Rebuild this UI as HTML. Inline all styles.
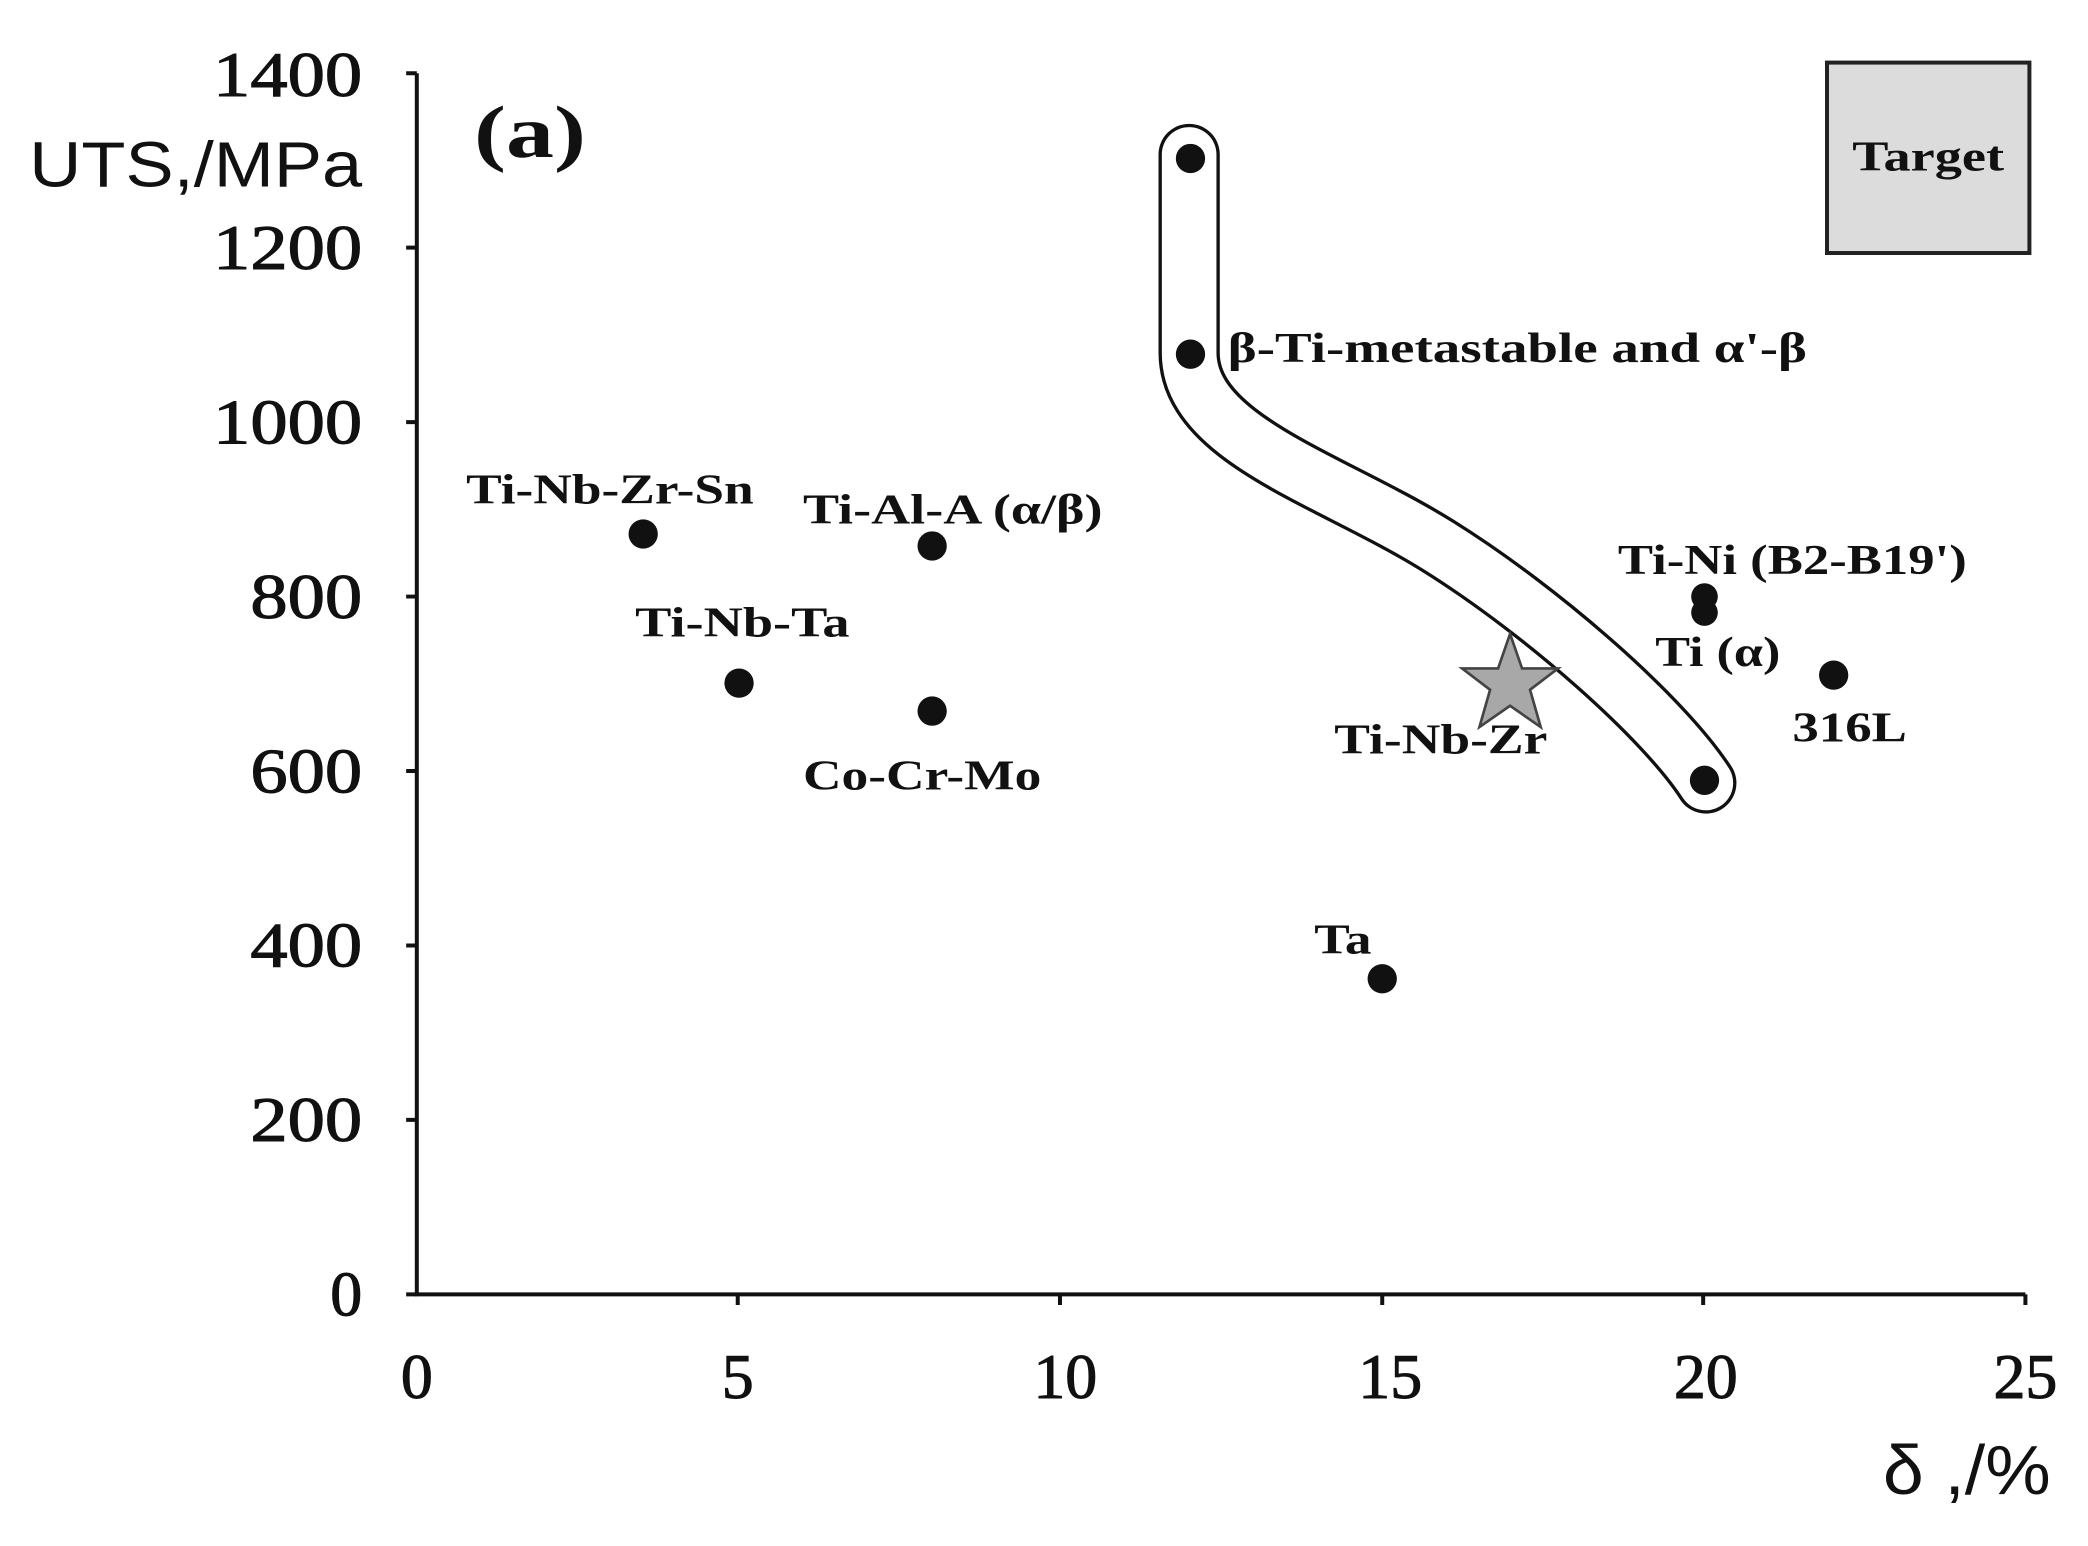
<!DOCTYPE html>
<html><head><style>html,body{margin:0;padding:0;background:#fff;}svg{display:block}</style></head>
<body>
<svg width="2088" height="1546" viewBox="0 0 1568 1161" preserveAspectRatio="none" xmlns="http://www.w3.org/2000/svg">
<rect width="1568" height="1161" fill="#fff"/>
<g font-family="'Liberation Serif', serif" font-size="48" text-anchor="end" fill="#111" stroke="#111" stroke-width="0.8">
<text x="272" y="72" textLength="112" lengthAdjust="spacingAndGlyphs">1400</text>
<text x="272" y="202" textLength="112" lengthAdjust="spacingAndGlyphs">1200</text>
<text x="272" y="333" textLength="112" lengthAdjust="spacingAndGlyphs">1000</text>
<text x="272" y="464" textLength="84" lengthAdjust="spacingAndGlyphs">800</text>
<text x="272" y="595" textLength="84" lengthAdjust="spacingAndGlyphs">600</text>
<text x="272" y="726" textLength="84" lengthAdjust="spacingAndGlyphs">400</text>
<text x="272" y="857" textLength="84" lengthAdjust="spacingAndGlyphs">200</text>
<text x="272" y="988">0</text>
</g>
<g font-family="'Liberation Serif', serif" font-size="48" text-anchor="middle" fill="#111" stroke="#111" stroke-width="0.8">
<text x="313" y="1050">0</text>
<text x="554" y="1050">5</text>
<text x="800" y="1050">10</text>
<text x="1044" y="1050">15</text>
<text x="1281" y="1050">20</text>
<text x="1521" y="1050">25</text>
</g>
<g stroke="#111" stroke-width="3" fill="none">
<path d="M313,55 L313,972 L1521,972"/>
<path d="M305,55H313M305,186H313M305,317H313M305,448H313M305,579H313M305,710H313M305,841H313M305,972H313"/>
<path d="M554,972V980M796,972V980M1038,972V980M1279,972V980M1521,972V980"/>
</g>
<text x="22" y="140" font-family="'Liberation Sans', sans-serif" font-size="48" fill="#111" textLength="250" lengthAdjust="spacingAndGlyphs">UTS,/MPa</text>
<text x="356" y="118" font-family="'Liberation Serif', serif" font-size="56" font-weight="bold" fill="#111" textLength="84" lengthAdjust="spacingAndGlyphs">(a)</text>
<text x="1414" y="1122" font-family="'Liberation Sans', sans-serif" font-size="52" fill="#111" textLength="126" lengthAdjust="spacingAndGlyphs">δ ,/%</text>
<rect x="1372" y="47" width="152" height="143" fill="#dcdcdc" stroke="#222" stroke-width="3"/>
<text x="1391" y="128" font-family="'Liberation Serif', serif" font-size="32" font-weight="bold" fill="#111" textLength="114" lengthAdjust="spacingAndGlyphs">Target</text>
<path d="M893,116 L893,265 C893,330 1000,360 1080,410 C1160,460 1250,540 1281,588" stroke="#111" stroke-width="46" stroke-linecap="round" fill="none"/>
<path d="M893,116 L893,265 C893,330 1000,360 1080,410 C1160,460 1250,540 1281,588" stroke="#fff" stroke-width="41" stroke-linecap="round" fill="none"/>
<g fill="#111">
<circle cx="483" cy="401" r="11"/>
<circle cx="700" cy="410" r="11"/>
<circle cx="555" cy="513" r="11"/>
<circle cx="700" cy="534" r="11"/>
<circle cx="894" cy="119" r="11"/>
<circle cx="894" cy="266" r="11"/>
<circle cx="1280" cy="586" r="11"/>
<circle cx="1280" cy="448" r="10"/>
<circle cx="1280" cy="460" r="10"/>
<circle cx="1377" cy="507" r="11"/>
<circle cx="1038" cy="735" r="11"/>
</g>
<polygon points="1134,476 1143,502 1170,502 1149,518 1157,546 1134,530 1111,546 1119,518 1098,502 1125,502" fill="#a8a8a8" stroke="#444" stroke-width="2"/>
<g font-family="'Liberation Serif', serif" font-size="32" font-weight="bold" fill="#111">
<text x="350" y="378" textLength="216" lengthAdjust="spacingAndGlyphs">Ti-Nb-Zr-Sn</text>
<text x="603" y="393" textLength="225" lengthAdjust="spacingAndGlyphs">Ti-Al-A (α/β)</text>
<text x="477" y="478" textLength="161" lengthAdjust="spacingAndGlyphs">Ti-Nb-Ta</text>
<text x="603" y="593" textLength="179" lengthAdjust="spacingAndGlyphs">Co-Cr-Mo</text>
<text x="922" y="272" textLength="435" lengthAdjust="spacingAndGlyphs">β-Ti-metastable and α'-β</text>
<text x="1215" y="431" textLength="262" lengthAdjust="spacingAndGlyphs">Ti-Ni (B2-B19')</text>
<text x="1243" y="500" textLength="94" lengthAdjust="spacingAndGlyphs">Ti (α)</text>
<text x="1346" y="557" textLength="86" lengthAdjust="spacingAndGlyphs">316L</text>
<text x="1002" y="566" textLength="160" lengthAdjust="spacingAndGlyphs">Ti-Nb-Zr</text>
<text x="987" y="716" textLength="43" lengthAdjust="spacingAndGlyphs">Ta</text>
</g>
</svg>
</body></html>
